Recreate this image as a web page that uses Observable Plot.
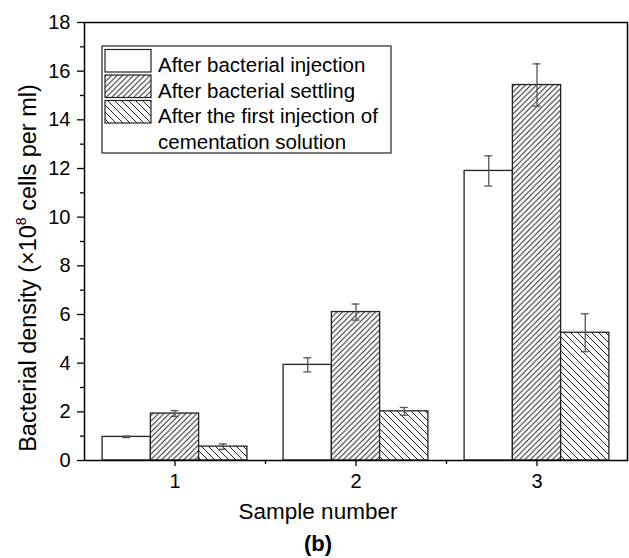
<!DOCTYPE html>
<html>
<head>
<meta charset="utf-8">
<script src="https://cdn.jsdelivr.net/npm/d3@7"></script>
<script src="https://cdn.jsdelivr.net/npm/@observablehq/plot@0.6"></script>
<style>
  html, body { margin: 0; padding: 0; background: white; }
  #chart svg { display: block; }
</style>
</head>
<body>
<div id="chart"></div>
<script>
// ---- data ----
const samples = [1, 2, 3];
const seriesNames = [
  "After bacterial injection",
  "After bacterial settling",
  "After the first injection of cementation solution"
];
const legendLines = [
  ["After bacterial injection"],
  ["After bacterial settling"],
  ["After the first injection of", "cementation solution"]
];
const injection = [0.97, 3.93, 11.9];
const injectionErr = [0.03, 0.29, 0.62];
const settling = [1.93, 6.1, 15.43];
const settlingErr = [0.12, 0.33, 0.87];
const cementation = [0.57, 2.02, 5.25];
const cementationErr = [0.11, 0.16, 0.78];
const yTicks = [0, 2, 4, 6, 8, 10, 12, 14, 16, 18];
const yMinorTicks = [1, 3, 5, 7, 9, 11, 13, 15, 17];
const xTicks = [1, 2, 3];
const xMinorTicks = [1.5, 2.5];

const values = [injection, settling, cementation];
const errors = [injectionErr, settlingErr, cementationErr];
const fills = ["white", "url(#hatchFwd)", "url(#hatchBack)"];

const groupWidth = 0.8;
const bw = groupWidth / 3;
const capHalf = 0.022;

const rows = [];
values.forEach((vals, s) => {
  samples.forEach((sample, i) => {
    rows.push({sample, s, series: seriesNames[s], value: vals[i], err: errors[s][i],
      center: sample + (s - 1) * bw});
  });
});

const font = "Arial, 'Liberation Sans', Helvetica, sans-serif";

const barMarks = [0, 1, 2].map(s =>
  Plot.rectY(rows.filter(d => d.s === s), {
    x1: d => d.center - bw / 2,
    x2: d => d.center + bw / 2,
    y1: 0,
    y2: "value",
    fill: fills[s],
    stroke: "#222",
    strokeWidth: 1.3
  })
);

const plot = Plot.plot({
  width: 629,
  height: 558,
  marginTop: 22,
  marginBottom: 98,
  marginLeft: 84,
  marginRight: 2,
  style: {fontFamily: font, fontSize: "20px", color: "black", background: "white"},
  x: {domain: [0.5, 3.5]},
  y: {domain: [0, 18]},
  marks: [
    ...barMarks,
    Plot.ruleX(rows, {x: "center", y1: d => d.value - d.err, y2: d => d.value + d.err, stroke: "#555", strokeWidth: 1.3}),
    Plot.ruleY(rows, {y: d => d.value - d.err, x1: d => d.center - capHalf, x2: d => d.center + capHalf, stroke: "#555", strokeWidth: 1.3}),
    Plot.ruleY(rows, {y: d => d.value + d.err, x1: d => d.center - capHalf, x2: d => d.center + capHalf, stroke: "#555", strokeWidth: 1.3}),
    Plot.axisY({ticks: yTicks, tickSize: 7, tickPadding: 7, label: null, strokeWidth: 1.3, fontSize: 20}),
    Plot.axisY({ticks: yMinorTicks, tickSize: 4, text: null, label: null, strokeWidth: 1.3}),
    Plot.axisX({ticks: xTicks, tickSize: 6, tickPadding: 7, label: null, tickFormat: d => String(d), strokeWidth: 1.3, fontSize: 20}),
    Plot.axisX({ticks: xMinorTicks, tickSize: 4, text: null, label: null, strokeWidth: 1.3}),
    Plot.frame({stroke: "black", strokeWidth: 1.5})
  ]
});

const svg = d3.select(plot);

// hatch patterns
const defs = svg.insert("defs", ":first-child");
function hatch(id, size, forward, color) {
  const p = defs.append("pattern")
    .attr("id", id).attr("patternUnits", "userSpaceOnUse")
    .attr("width", size).attr("height", size);
  p.append("rect").attr("width", size).attr("height", size).attr("fill", "white");
  const paths = forward
    ? `M0,${size} L${size},0 M${-size/2},${size/2} L${size/2},${-size/2} M${size/2},${size*1.5} L${size*1.5},${size/2}`
    : `M0,0 L${size},${size} M${-size/2},${size/2} L${size/2},${size*1.5} M${size/2},${-size/2} L${size*1.5},${size/2}`;
  p.append("path").attr("d", paths).attr("stroke", color).attr("stroke-width", 1).attr("fill", "none");
}
hatch("hatchFwd", 5.5, true, "#222");
hatch("hatchBack", 7, false, "#222");

// y-axis label with superscript
const yl = svg.append("text")
  .attr("transform", "translate(36,268) rotate(-90)")
  .attr("text-anchor", "middle")
  .attr("font-family", font)
  .attr("font-size", 23.5)
  .attr("fill", "black");
yl.append("tspan").text("Bacterial density (×10");
yl.append("tspan").attr("font-size", 14).attr("dy", -10).text("8");
yl.append("tspan").attr("dy", 10).text(" cells per ml)");

// x label and panel tag
svg.append("text").attr("x", 318).attr("y", 519).attr("text-anchor", "middle")
  .attr("font-family", font).attr("font-size", 22.5).attr("fill", "black").text("Sample number");
svg.append("text").attr("x", 318).attr("y", 551).attr("text-anchor", "middle")
  .attr("font-family", font).attr("font-size", 22).attr("font-weight", "bold").attr("fill", "black").text("(b)");

// legend
const lg = svg.append("g").attr("text-anchor", "start");
lg.append("rect").attr("x", 102).attr("y", 46).attr("width", 289).attr("height", 107)
  .attr("fill", "white").attr("stroke", "#222").attr("stroke-width", 1.2);
const lineStep = 25.5;
let lineIdx = 0;
seriesNames.forEach((name, s) => {
  const top = 49.5 + s * lineStep;
  lg.append("rect").attr("x", 105).attr("y", top).attr("width", 46).attr("height", 22.5)
    .attr("fill", fills[s]).attr("stroke", "#222").attr("stroke-width", 1.2);
  legendLines[s].forEach(line => {
    lg.append("text").attr("x", 158).attr("y", 72 + lineIdx * lineStep)
      .attr("text-anchor", "start")
      .attr("font-family", font).attr("font-size", 20.5).attr("fill", "black").text(line);
    lineIdx++;
  });
});

document.getElementById("chart").appendChild(plot);
</script>
</body>
</html>
